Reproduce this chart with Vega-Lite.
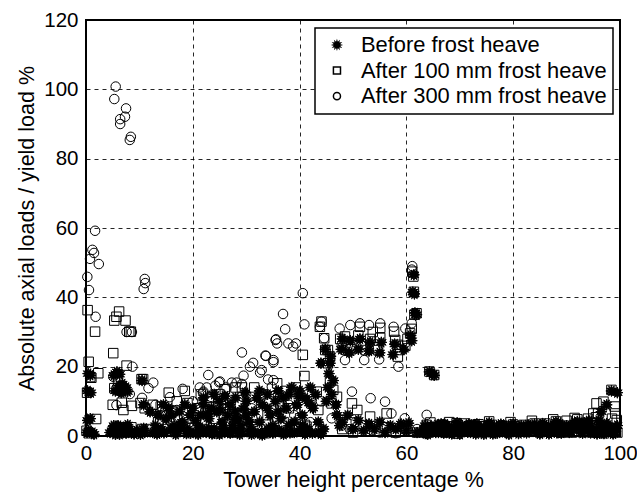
{
  "$schema": "https://vega.github.io/schema/vega-lite/v6.json",
  "width": 534,
  "height": 416,
  "autosize": {"type": "none"},
  "padding": {"left": 86, "top": 20, "right": 17, "bottom": 61},
  "background": "white",
  "datasets": {
    "loads": [
      {"series":"Before frost heave","x":0.2,"y":1},{"series":"Before frost heave","x":0.5,"y":1.5},{"series":"Before frost heave","x":0.3,"y":4.5},{"series":"Before frost heave","x":0.8,"y":5},{"series":"Before frost heave","x":0.3,"y":13},{"series":"Before frost heave","x":0.9,"y":12.5},{"series":"Before frost heave","x":0.4,"y":18},{"series":"Before frost heave","x":0.8,"y":17.5},{"series":"Before frost heave","x":1.2,"y":1},{"series":"Before frost heave","x":1.5,"y":0.5},
      {"series":"Before frost heave","x":4.5,"y":1},{"series":"Before frost heave","x":5,"y":2},{"series":"Before frost heave","x":5.5,"y":0.5},{"series":"Before frost heave","x":6,"y":3},{"series":"Before frost heave","x":6.5,"y":1.5},{"series":"Before frost heave","x":7,"y":2.5},{"series":"Before frost heave","x":7.5,"y":0.8},{"series":"Before frost heave","x":8,"y":2},{"series":"Before frost heave","x":8.5,"y":1},{"series":"Before frost heave","x":5.2,"y":3},{"series":"Before frost heave","x":6.3,"y":0.5},{"series":"Before frost heave","x":7.8,"y":3.2},{"series":"Before frost heave","x":9,"y":0.6},
      {"series":"Before frost heave","x":5.2,"y":17.5},{"series":"Before frost heave","x":5.8,"y":18.5},{"series":"Before frost heave","x":6.3,"y":17.8},{"series":"Before frost heave","x":5.5,"y":13},{"series":"Before frost heave","x":6.2,"y":14.5},{"series":"Before frost heave","x":6.8,"y":15},{"series":"Before frost heave","x":7.2,"y":13.5},{"series":"Before frost heave","x":7.5,"y":14},{"series":"Before frost heave","x":7.8,"y":12.8},{"series":"Before frost heave","x":6.6,"y":12.5},
      {"series":"Before frost heave","x":9.5,"y":1.5},{"series":"Before frost heave","x":10.2,"y":0.5},{"series":"Before frost heave","x":10.8,"y":2.2},{"series":"Before frost heave","x":11,"y":1},{"series":"Before frost heave","x":10.5,"y":16},{"series":"Before frost heave","x":10.8,"y":9},
      {"series":"Before frost heave","x":12.5,"y":1},{"series":"Before frost heave","x":13,"y":3},{"series":"Before frost heave","x":14,"y":2},{"series":"Before frost heave","x":15,"y":5},{"series":"Before frost heave","x":15.5,"y":8},{"series":"Before frost heave","x":16,"y":6},{"series":"Before frost heave","x":16.5,"y":3},{"series":"Before frost heave","x":17,"y":1.5},{"series":"Before frost heave","x":17.5,"y":7},{"series":"Before frost heave","x":18,"y":4},{"series":"Before frost heave","x":18.5,"y":9},{"series":"Before frost heave","x":19,"y":2},{"series":"Before frost heave","x":19.5,"y":6},{"series":"Before frost heave","x":20,"y":8},{"series":"Before frost heave","x":20.5,"y":1},{"series":"Before frost heave","x":14.5,"y":9},{"series":"Before frost heave","x":13.5,"y":6},{"series":"Before frost heave","x":12,"y":7},{"series":"Before frost heave","x":16.8,"y":0.5},{"series":"Before frost heave","x":18.8,"y":0.7},
      {"series":"Before frost heave","x":13.3,"y":0.6},{"series":"Before frost heave","x":14.6,"y":0.9},{"series":"Before frost heave","x":15.8,"y":1.8},{"series":"Before frost heave","x":17.8,"y":2.4},{"series":"Before frost heave","x":19.6,"y":0.8},{"series":"Before frost heave","x":21.8,"y":1.8},{"series":"Before frost heave","x":23.6,"y":0.6},{"series":"Before frost heave","x":25.8,"y":2.4},{"series":"Before frost heave","x":27.6,"y":1.8},{"series":"Before frost heave","x":28.8,"y":0.5},{"series":"Before frost heave","x":30.6,"y":1.2},{"series":"Before frost heave","x":32.2,"y":0.8},{"series":"Before frost heave","x":34.2,"y":2.2},{"series":"Before frost heave","x":36.2,"y":1.6},{"series":"Before frost heave","x":38.2,"y":0.9},{"series":"Before frost heave","x":40.6,"y":2.8},{"series":"Before frost heave","x":42.4,"y":0.8},{"series":"Before frost heave","x":44,"y":0.6},
      {"series":"Before frost heave","x":21,"y":3},{"series":"Before frost heave","x":21.5,"y":6},{"series":"Before frost heave","x":22,"y":9},{"series":"Before frost heave","x":22.5,"y":1},{"series":"Before frost heave","x":23,"y":5},{"series":"Before frost heave","x":23.5,"y":8},{"series":"Before frost heave","x":24,"y":2},{"series":"Before frost heave","x":24.5,"y":7},{"series":"Before frost heave","x":25,"y":10},{"series":"Before frost heave","x":25.5,"y":4},{"series":"Before frost heave","x":26,"y":1},{"series":"Before frost heave","x":26.5,"y":6},{"series":"Before frost heave","x":27,"y":9},{"series":"Before frost heave","x":27.5,"y":3},{"series":"Before frost heave","x":28,"y":11},{"series":"Before frost heave","x":28.5,"y":5},{"series":"Before frost heave","x":29,"y":1.5},{"series":"Before frost heave","x":29.5,"y":8},{"series":"Before frost heave","x":30,"y":10},{"series":"Before frost heave","x":30.5,"y":4},{"series":"Before frost heave","x":21,"y":0.5},{"series":"Before frost heave","x":23,"y":2},{"series":"Before frost heave","x":25,"y":0.5},{"series":"Before frost heave","x":27,"y":0.8},{"series":"Before frost heave","x":29,"y":3},{"series":"Before frost heave","x":22,"y":11},{"series":"Before frost heave","x":24,"y":12},{"series":"Before frost heave","x":26,"y":11.5},{"series":"Before frost heave","x":28,"y":7},{"series":"Before frost heave","x":30,"y":6},{"series":"Before frost heave","x":20.5,"y":4.5},{"series":"Before frost heave","x":22.8,"y":6.5},{"series":"Before frost heave","x":25.2,"y":7.5},{"series":"Before frost heave","x":27.8,"y":4.8},{"series":"Before frost heave","x":29.8,"y":12.5},
      {"series":"Before frost heave","x":31,"y":2},{"series":"Before frost heave","x":31.5,"y":7},{"series":"Before frost heave","x":32,"y":11},{"series":"Before frost heave","x":32.5,"y":4},{"series":"Before frost heave","x":33,"y":9},{"series":"Before frost heave","x":33.5,"y":1},{"series":"Before frost heave","x":34,"y":12},{"series":"Before frost heave","x":34.5,"y":6},{"series":"Before frost heave","x":35,"y":3},{"series":"Before frost heave","x":35.5,"y":10},{"series":"Before frost heave","x":36,"y":13},{"series":"Before frost heave","x":36.5,"y":5},{"series":"Before frost heave","x":37,"y":1},{"series":"Before frost heave","x":37.5,"y":8},{"series":"Before frost heave","x":38,"y":12},{"series":"Before frost heave","x":38.5,"y":14},{"series":"Before frost heave","x":39,"y":4},{"series":"Before frost heave","x":39.5,"y":9},{"series":"Before frost heave","x":40,"y":13},{"series":"Before frost heave","x":40.5,"y":6},{"series":"Before frost heave","x":41,"y":11},{"series":"Before frost heave","x":41.5,"y":2},{"series":"Before frost heave","x":42,"y":14},{"series":"Before frost heave","x":42.5,"y":8},{"series":"Before frost heave","x":43,"y":12},{"series":"Before frost heave","x":43.5,"y":4},{"series":"Before frost heave","x":31,"y":0.5},{"series":"Before frost heave","x":33,"y":0.3},{"series":"Before frost heave","x":35,"y":0.8},{"series":"Before frost heave","x":37,"y":0.5},{"series":"Before frost heave","x":39,"y":1},{"series":"Before frost heave","x":41,"y":0.6},{"series":"Before frost heave","x":36,"y":7},{"series":"Before frost heave","x":38,"y":3},{"series":"Before frost heave","x":40,"y":1.5},{"series":"Before frost heave","x":34,"y":8},{"series":"Before frost heave","x":32.5,"y":13},{"series":"Before frost heave","x":37,"y":11},{"series":"Before frost heave","x":39.8,"y":11.5},{"series":"Before frost heave","x":41.8,"y":9.5},{"series":"Before frost heave","x":43.5,"y":1},
      {"series":"Before frost heave","x":44.5,"y":2},{"series":"Before frost heave","x":45,"y":10},{"series":"Before frost heave","x":45.3,"y":14},{"series":"Before frost heave","x":45.5,"y":18},{"series":"Before frost heave","x":45.7,"y":21},{"series":"Before frost heave","x":45.8,"y":23},{"series":"Before frost heave","x":46,"y":12},{"series":"Before frost heave","x":46.3,"y":16},{"series":"Before frost heave","x":46.8,"y":9},{"series":"Before frost heave","x":47,"y":6},{"series":"Before frost heave","x":47.5,"y":3},{"series":"Before frost heave","x":44,"y":21},{"series":"Before frost heave","x":44.8,"y":25},
      {"series":"Before frost heave","x":47.8,"y":25},{"series":"Before frost heave","x":48,"y":28},{"series":"Before frost heave","x":49.3,"y":24},{"series":"Before frost heave","x":49.5,"y":27.5},{"series":"Before frost heave","x":51,"y":25},{"series":"Before frost heave","x":51.3,"y":28},{"series":"Before frost heave","x":53,"y":24.5},{"series":"Before frost heave","x":53.2,"y":27},{"series":"Before frost heave","x":55,"y":24},{"series":"Before frost heave","x":55.3,"y":27},{"series":"Before frost heave","x":57.5,"y":23.5},{"series":"Before frost heave","x":57.8,"y":26.5},{"series":"Before frost heave","x":59.5,"y":25},
      {"series":"Before frost heave","x":48,"y":4},{"series":"Before frost heave","x":49,"y":6},{"series":"Before frost heave","x":50,"y":2},{"series":"Before frost heave","x":51,"y":4.5},{"series":"Before frost heave","x":52,"y":1.5},{"series":"Before frost heave","x":53,"y":3.5},{"series":"Before frost heave","x":54,"y":2},{"series":"Before frost heave","x":55,"y":4},{"series":"Before frost heave","x":56,"y":1},{"series":"Before frost heave","x":57,"y":3},{"series":"Before frost heave","x":58,"y":2},{"series":"Before frost heave","x":59,"y":3.5},{"series":"Before frost heave","x":60,"y":1.5},{"series":"Before frost heave","x":60.4,"y":3.7},{"series":"Before frost heave","x":62,"y":1},
      {"series":"Before frost heave","x":61.2,"y":41.5},{"series":"Before frost heave","x":61.5,"y":41},{"series":"Before frost heave","x":61.6,"y":35.5},{"series":"Before frost heave","x":61.9,"y":35},{"series":"Before frost heave","x":61,"y":27.5},{"series":"Before frost heave","x":60.8,"y":29},{"series":"Before frost heave","x":61.4,"y":46.5},
      {"series":"Before frost heave","x":64.3,"y":18.5},{"series":"Before frost heave","x":64.8,"y":18},{"series":"Before frost heave","x":65.2,"y":17.5},
      {"series":"Before frost heave","x":63,"y":1},{"series":"Before frost heave","x":63.5,"y":3},{"series":"Before frost heave","x":64,"y":0.5},{"series":"Before frost heave","x":65,"y":2},{"series":"Before frost heave","x":66,"y":1},{"series":"Before frost heave","x":66.5,"y":3.5},{"series":"Before frost heave","x":67,"y":0.8},{"series":"Before frost heave","x":68,"y":2.5},{"series":"Before frost heave","x":69,"y":1.2},{"series":"Before frost heave","x":69.5,"y":3.8},{"series":"Before frost heave","x":70,"y":0.5},{"series":"Before frost heave","x":71,"y":2},{"series":"Before frost heave","x":72,"y":1},{"series":"Before frost heave","x":72.5,"y":3.2},{"series":"Before frost heave","x":73,"y":0.6},{"series":"Before frost heave","x":74,"y":2.4},{"series":"Before frost heave","x":75,"y":1},{"series":"Before frost heave","x":76,"y":3},{"series":"Before frost heave","x":77,"y":0.8},{"series":"Before frost heave","x":78,"y":2.2},{"series":"Before frost heave","x":79,"y":1.2},{"series":"Before frost heave","x":80,"y":3.5},{"series":"Before frost heave","x":81,"y":0.7},{"series":"Before frost heave","x":82,"y":2.6},{"series":"Before frost heave","x":83,"y":1.4},{"series":"Before frost heave","x":84,"y":3.4},{"series":"Before frost heave","x":85,"y":0.6},{"series":"Before frost heave","x":86,"y":2.6},{"series":"Before frost heave","x":87,"y":1.2},{"series":"Before frost heave","x":88,"y":4},{"series":"Before frost heave","x":89,"y":0.8},{"series":"Before frost heave","x":90,"y":3},{"series":"Before frost heave","x":91,"y":1.5},{"series":"Before frost heave","x":92,"y":4.2},{"series":"Before frost heave","x":93,"y":0.8},{"series":"Before frost heave","x":94,"y":3.5},{"series":"Before frost heave","x":95,"y":1.2},{"series":"Before frost heave","x":96,"y":4.5},{"series":"Before frost heave","x":97,"y":0.7},{"series":"Before frost heave","x":98,"y":2.5},{"series":"Before frost heave","x":99,"y":1},{"series":"Before frost heave","x":98.4,"y":13},{"series":"Before frost heave","x":99.5,"y":12.5},{"series":"Before frost heave","x":97.5,"y":9},{"series":"Before frost heave","x":96.5,"y":7},
      {"series":"Before frost heave","x":65.5,"y":1},{"series":"Before frost heave","x":67.5,"y":2},{"series":"Before frost heave","x":70.5,"y":3},{"series":"Before frost heave","x":73.5,"y":2},{"series":"Before frost heave","x":75.5,"y":3.8},{"series":"Before frost heave","x":78.5,"y":1},{"series":"Before frost heave","x":81.5,"y":3},{"series":"Before frost heave","x":84.5,"y":1.8},{"series":"Before frost heave","x":87.5,"y":3},{"series":"Before frost heave","x":90.5,"y":1},{"series":"Before frost heave","x":93.5,"y":2.5},{"series":"Before frost heave","x":96.5,"y":2},{"series":"Before frost heave","x":99.5,"y":3},
      {"series":"Before frost heave","x":64.5,"y":2.8},{"series":"Before frost heave","x":68.5,"y":0.6},{"series":"Before frost heave","x":71.5,"y":1.1},{"series":"Before frost heave","x":74.5,"y":0.5},{"series":"Before frost heave","x":76.5,"y":1.8},{"series":"Before frost heave","x":79.5,"y":2.8},{"series":"Before frost heave","x":82.5,"y":0.9},{"series":"Before frost heave","x":85.5,"y":3.6},{"series":"Before frost heave","x":88.5,"y":1.6},{"series":"Before frost heave","x":91.5,"y":3.8},{"series":"Before frost heave","x":94.5,"y":0.9},{"series":"Before frost heave","x":97.5,"y":3.6},
      {"series":"Before frost heave","x":63.3,"y":2},{"series":"Before frost heave","x":64.7,"y":1.4},{"series":"Before frost heave","x":66.2,"y":2.2},{"series":"Before frost heave","x":67.7,"y":1.2},{"series":"Before frost heave","x":69.2,"y":2.6},{"series":"Before frost heave","x":70.8,"y":1.3},{"series":"Before frost heave","x":72.3,"y":2.3},{"series":"Before frost heave","x":73.8,"y":1.2},{"series":"Before frost heave","x":75.3,"y":2.6},{"series":"Before frost heave","x":76.8,"y":1.4},{"series":"Before frost heave","x":78.3,"y":3},{"series":"Before frost heave","x":79.8,"y":1.3},{"series":"Before frost heave","x":81.3,"y":2.2},{"series":"Before frost heave","x":82.8,"y":3.2},{"series":"Before frost heave","x":84.3,"y":1.2},{"series":"Before frost heave","x":85.8,"y":3.2},{"series":"Before frost heave","x":87.3,"y":2.2},{"series":"Before frost heave","x":88.8,"y":3.4},{"series":"Before frost heave","x":90.3,"y":2.2},{"series":"Before frost heave","x":91.8,"y":2.5},{"series":"Before frost heave","x":93.3,"y":3.8},{"series":"Before frost heave","x":94.8,"y":2.4},{"series":"Before frost heave","x":96.3,"y":3.4},{"series":"Before frost heave","x":97.8,"y":1.6},{"series":"Before frost heave","x":99.3,"y":2.2},
      {"series":"Before frost heave","x":63.7,"y":0.7},{"series":"Before frost heave","x":65.8,"y":3.2},{"series":"Before frost heave","x":67.2,"y":3.4},{"series":"Before frost heave","x":68.8,"y":1.8},{"series":"Before frost heave","x":70.2,"y":2.4},{"series":"Before frost heave","x":71.7,"y":3.4},{"series":"Before frost heave","x":73.2,"y":3.5},{"series":"Before frost heave","x":74.7,"y":1.9},{"series":"Before frost heave","x":76.2,"y":0.6},{"series":"Before frost heave","x":77.7,"y":3.4},{"series":"Before frost heave","x":79.2,"y":0.5},{"series":"Before frost heave","x":80.7,"y":1.9},{"series":"Before frost heave","x":82.2,"y":1.6},{"series":"Before frost heave","x":83.7,"y":2.6},{"series":"Before frost heave","x":85.2,"y":2.2},{"series":"Before frost heave","x":86.7,"y":0.6},{"series":"Before frost heave","x":88.2,"y":0.9},{"series":"Before frost heave","x":89.7,"y":2},{"series":"Before frost heave","x":91.2,"y":3.2},{"series":"Before frost heave","x":92.7,"y":1.6},{"series":"Before frost heave","x":94.2,"y":4.4},{"series":"Before frost heave","x":95.7,"y":0.6},{"series":"Before frost heave","x":97.2,"y":2.6},{"series":"Before frost heave","x":98.7,"y":0.6},

      {"series":"After 100 mm frost heave","x":0.3,"y":36.3},{"series":"After 100 mm frost heave","x":0.5,"y":21.4},{"series":"After 100 mm frost heave","x":0.8,"y":17},{"series":"After 100 mm frost heave","x":0.2,"y":12.5},{"series":"After 100 mm frost heave","x":0.1,"y":1.5},{"series":"After 100 mm frost heave","x":1,"y":16.8},{"series":"After 100 mm frost heave","x":1.7,"y":30.1},{"series":"After 100 mm frost heave","x":2.3,"y":18.1},{"series":"After 100 mm frost heave","x":1.9,"y":4.9},{"series":"After 100 mm frost heave","x":0.5,"y":0.8},
      {"series":"After 100 mm frost heave","x":6.2,"y":35.9},{"series":"After 100 mm frost heave","x":5.7,"y":34.4},{"series":"After 100 mm frost heave","x":7.4,"y":33.3},{"series":"After 100 mm frost heave","x":5.3,"y":33.3},{"series":"After 100 mm frost heave","x":8.1,"y":30.1},{"series":"After 100 mm frost heave","x":8.4,"y":30.1},{"series":"After 100 mm frost heave","x":5.1,"y":23.9},{"series":"After 100 mm frost heave","x":7.6,"y":20.3},{"series":"After 100 mm frost heave","x":5.3,"y":13.8},{"series":"After 100 mm frost heave","x":6.7,"y":9.6},{"series":"After 100 mm frost heave","x":7,"y":7.5},{"series":"After 100 mm frost heave","x":8.6,"y":8.7},{"series":"After 100 mm frost heave","x":5.5,"y":1.5},{"series":"After 100 mm frost heave","x":6.5,"y":2.5},{"series":"After 100 mm frost heave","x":7.5,"y":1},{"series":"After 100 mm frost heave","x":8.5,"y":2.5},{"series":"After 100 mm frost heave","x":6,"y":16},{"series":"After 100 mm frost heave","x":5,"y":9},
      {"series":"After 100 mm frost heave","x":10.4,"y":16.4},{"series":"After 100 mm frost heave","x":10.7,"y":16.4},{"series":"After 100 mm frost heave","x":10.2,"y":9.5},{"series":"After 100 mm frost heave","x":11,"y":8},{"series":"After 100 mm frost heave","x":10.5,"y":2},
      {"series":"After 100 mm frost heave","x":12.5,"y":9},{"series":"After 100 mm frost heave","x":13.5,"y":4},{"series":"After 100 mm frost heave","x":14,"y":8.5},{"series":"After 100 mm frost heave","x":15,"y":2},{"series":"After 100 mm frost heave","x":16,"y":7},{"series":"After 100 mm frost heave","x":17,"y":10},{"series":"After 100 mm frost heave","x":18,"y":3},{"series":"After 100 mm frost heave","x":19,"y":9.5},{"series":"After 100 mm frost heave","x":20,"y":5},{"series":"After 100 mm frost heave","x":15.5,"y":12.5},{"series":"After 100 mm frost heave","x":18.5,"y":13},{"series":"After 100 mm frost heave","x":12,"y":2},
      {"series":"After 100 mm frost heave","x":21,"y":8},{"series":"After 100 mm frost heave","x":22,"y":2},{"series":"After 100 mm frost heave","x":23,"y":10},{"series":"After 100 mm frost heave","x":24,"y":5},{"series":"After 100 mm frost heave","x":25,"y":12},{"series":"After 100 mm frost heave","x":26,"y":3},{"series":"After 100 mm frost heave","x":27,"y":9},{"series":"After 100 mm frost heave","x":28,"y":14},{"series":"After 100 mm frost heave","x":29,"y":6},{"series":"After 100 mm frost heave","x":29.2,"y":14},{"series":"After 100 mm frost heave","x":30,"y":2},{"series":"After 100 mm frost heave","x":21.5,"y":12},{"series":"After 100 mm frost heave","x":24.5,"y":0.8},{"series":"After 100 mm frost heave","x":27.5,"y":1},{"series":"After 100 mm frost heave","x":26,"y":13.5},{"series":"After 100 mm frost heave","x":23.5,"y":11},
      {"series":"After 100 mm frost heave","x":31,"y":9},{"series":"After 100 mm frost heave","x":32,"y":3},{"series":"After 100 mm frost heave","x":33,"y":12},{"series":"After 100 mm frost heave","x":34,"y":6},{"series":"After 100 mm frost heave","x":35,"y":1.5},{"series":"After 100 mm frost heave","x":35.8,"y":15.2},{"series":"After 100 mm frost heave","x":36,"y":10},{"series":"After 100 mm frost heave","x":37,"y":4},{"series":"After 100 mm frost heave","x":38,"y":8},{"series":"After 100 mm frost heave","x":39.3,"y":14},{"series":"After 100 mm frost heave","x":40.6,"y":23.4},{"series":"After 100 mm frost heave","x":40.9,"y":17.3},{"series":"After 100 mm frost heave","x":40.1,"y":5.1},{"series":"After 100 mm frost heave","x":41,"y":3.2},{"series":"After 100 mm frost heave","x":42,"y":10},{"series":"After 100 mm frost heave","x":43.2,"y":12.8},{"series":"After 100 mm frost heave","x":43.5,"y":7.5},{"series":"After 100 mm frost heave","x":41.3,"y":2.7},{"series":"After 100 mm frost heave","x":31.5,"y":14},{"series":"After 100 mm frost heave","x":33.5,"y":0.8},{"series":"After 100 mm frost heave","x":37.5,"y":13},
      {"series":"After 100 mm frost heave","x":44.1,"y":33},{"series":"After 100 mm frost heave","x":43.8,"y":31.5},{"series":"After 100 mm frost heave","x":44.6,"y":28.2},{"series":"After 100 mm frost heave","x":44.8,"y":24.8},{"series":"After 100 mm frost heave","x":45.3,"y":24.8},{"series":"After 100 mm frost heave","x":45.7,"y":22.9},{"series":"After 100 mm frost heave","x":45.3,"y":21},{"series":"After 100 mm frost heave","x":45.7,"y":15.7},{"series":"After 100 mm frost heave","x":46.3,"y":13.3},{"series":"After 100 mm frost heave","x":47,"y":11.3},{"series":"After 100 mm frost heave","x":46,"y":9.4},{"series":"After 100 mm frost heave","x":49.8,"y":9.4},{"series":"After 100 mm frost heave","x":50.8,"y":7.5},{"series":"After 100 mm frost heave","x":53.2,"y":5.6},{"series":"After 100 mm frost heave","x":56.3,"y":6.5},
      {"series":"After 100 mm frost heave","x":47.6,"y":28},{"series":"After 100 mm frost heave","x":48.5,"y":28.7},{"series":"After 100 mm frost heave","x":49,"y":27},{"series":"After 100 mm frost heave","x":49.5,"y":25},{"series":"After 100 mm frost heave","x":51,"y":29},{"series":"After 100 mm frost heave","x":51.5,"y":26.5},{"series":"After 100 mm frost heave","x":52.4,"y":24.8},{"series":"After 100 mm frost heave","x":51.3,"y":31.5},{"series":"After 100 mm frost heave","x":53.2,"y":28},{"series":"After 100 mm frost heave","x":53.7,"y":30},{"series":"After 100 mm frost heave","x":55.1,"y":31.2},{"series":"After 100 mm frost heave","x":55.1,"y":28.3},{"series":"After 100 mm frost heave","x":54.7,"y":24.8},{"series":"After 100 mm frost heave","x":57.7,"y":30.1},{"series":"After 100 mm frost heave","x":57.9,"y":27.7},{"series":"After 100 mm frost heave","x":58.4,"y":26.3},{"series":"After 100 mm frost heave","x":58.8,"y":24.8},{"series":"After 100 mm frost heave","x":58.4,"y":22.9},{"series":"After 100 mm frost heave","x":59.8,"y":26},{"series":"After 100 mm frost heave","x":60.2,"y":28},{"series":"After 100 mm frost heave","x":61,"y":30.9},{"series":"After 100 mm frost heave","x":60.7,"y":29.6},
      {"series":"After 100 mm frost heave","x":61.1,"y":47.4},{"series":"After 100 mm frost heave","x":61.3,"y":46},{"series":"After 100 mm frost heave","x":61.4,"y":41.6},{"series":"After 100 mm frost heave","x":61.9,"y":35.4},{"series":"After 100 mm frost heave","x":61.5,"y":35},{"series":"After 100 mm frost heave","x":64.3,"y":18.6},{"series":"After 100 mm frost heave","x":65.2,"y":17.6},
      {"series":"After 100 mm frost heave","x":48,"y":2},{"series":"After 100 mm frost heave","x":50,"y":1},{"series":"After 100 mm frost heave","x":52,"y":3},{"series":"After 100 mm frost heave","x":54,"y":1.5},{"series":"After 100 mm frost heave","x":56,"y":2.5},{"series":"After 100 mm frost heave","x":58,"y":1},{"series":"After 100 mm frost heave","x":60,"y":2},{"series":"After 100 mm frost heave","x":62,"y":1},
      {"series":"After 100 mm frost heave","x":63.8,"y":3.2},{"series":"After 100 mm frost heave","x":64,"y":1},{"series":"After 100 mm frost heave","x":65,"y":2.5},{"series":"After 100 mm frost heave","x":66.9,"y":3.2},{"series":"After 100 mm frost heave","x":67.5,"y":1},{"series":"After 100 mm frost heave","x":68.5,"y":2.8},{"series":"After 100 mm frost heave","x":69.4,"y":3.7},{"series":"After 100 mm frost heave","x":70.5,"y":1.5},{"series":"After 100 mm frost heave","x":71.3,"y":1.7},{"series":"After 100 mm frost heave","x":72,"y":3},{"series":"After 100 mm frost heave","x":73,"y":1.2},{"series":"After 100 mm frost heave","x":74,"y":2.8},{"series":"After 100 mm frost heave","x":75,"y":1.6},{"series":"After 100 mm frost heave","x":76,"y":3.2},{"series":"After 100 mm frost heave","x":77,"y":1.2},{"series":"After 100 mm frost heave","x":78,"y":2.9},{"series":"After 100 mm frost heave","x":79,"y":1.3},{"series":"After 100 mm frost heave","x":80,"y":3.3},{"series":"After 100 mm frost heave","x":81,"y":1.4},{"series":"After 100 mm frost heave","x":82,"y":3.2},{"series":"After 100 mm frost heave","x":83,"y":1.2},{"series":"After 100 mm frost heave","x":84,"y":3.6},{"series":"After 100 mm frost heave","x":85,"y":1.1},{"series":"After 100 mm frost heave","x":86,"y":3.6},{"series":"After 100 mm frost heave","x":87,"y":1.4},{"series":"After 100 mm frost heave","x":88,"y":4.2},{"series":"After 100 mm frost heave","x":89,"y":1},{"series":"After 100 mm frost heave","x":90,"y":4.4},{"series":"After 100 mm frost heave","x":91,"y":1},{"series":"After 100 mm frost heave","x":92,"y":4.8},{"series":"After 100 mm frost heave","x":93,"y":1.1},{"series":"After 100 mm frost heave","x":94,"y":5},{"series":"After 100 mm frost heave","x":95,"y":1},{"series":"After 100 mm frost heave","x":95,"y":6.5},{"series":"After 100 mm frost heave","x":95.9,"y":6.5},{"series":"After 100 mm frost heave","x":95.6,"y":9.4},{"series":"After 100 mm frost heave","x":96.9,"y":9.9},{"series":"After 100 mm frost heave","x":98.4,"y":13.3},{"series":"After 100 mm frost heave","x":99.1,"y":6.5},{"series":"After 100 mm frost heave","x":99.4,"y":4.6},{"series":"After 100 mm frost heave","x":96,"y":1},{"series":"After 100 mm frost heave","x":97,"y":0.8},{"series":"After 100 mm frost heave","x":98,"y":1.2},{"series":"After 100 mm frost heave","x":99.5,"y":1},{"series":"After 100 mm frost heave","x":99,"y":8.5},
      {"series":"After 100 mm frost heave","x":66.5,"y":2},{"series":"After 100 mm frost heave","x":69.5,"y":0.7},{"series":"After 100 mm frost heave","x":73.5,"y":3.4},{"series":"After 100 mm frost heave","x":77.5,"y":2.4},{"series":"After 100 mm frost heave","x":81.5,"y":2},{"series":"After 100 mm frost heave","x":85.5,"y":2.4},{"series":"After 100 mm frost heave","x":89.5,"y":3},{"series":"After 100 mm frost heave","x":93.5,"y":3.8},{"series":"After 100 mm frost heave","x":97.5,"y":2.5},
      {"series":"After 100 mm frost heave","x":64.5,"y":3.9},{"series":"After 100 mm frost heave","x":68,"y":4},{"series":"After 100 mm frost heave","x":71,"y":3.6},{"series":"After 100 mm frost heave","x":75.5,"y":4.2},{"series":"After 100 mm frost heave","x":79.5,"y":4},{"series":"After 100 mm frost heave","x":83.5,"y":4.4},{"series":"After 100 mm frost heave","x":87.5,"y":4.8},{"series":"After 100 mm frost heave","x":91.5,"y":5.2},{"series":"After 100 mm frost heave","x":95.5,"y":5.4},{"series":"After 100 mm frost heave","x":98.5,"y":5},

      {"series":"After 300 mm frost heave","x":5.56,"y":100.8},{"series":"After 300 mm frost heave","x":5.3,"y":97.2},{"series":"After 300 mm frost heave","x":7.5,"y":94.5},{"series":"After 300 mm frost heave","x":7.3,"y":92.1},{"series":"After 300 mm frost heave","x":6.4,"y":91.4},{"series":"After 300 mm frost heave","x":6.4,"y":90},{"series":"After 300 mm frost heave","x":8.4,"y":86.3},{"series":"After 300 mm frost heave","x":8.2,"y":85.4},
      {"series":"After 300 mm frost heave","x":1.7,"y":59.2},{"series":"After 300 mm frost heave","x":1.2,"y":53.7},{"series":"After 300 mm frost heave","x":1.5,"y":52.8},{"series":"After 300 mm frost heave","x":0.75,"y":51.1},{"series":"After 300 mm frost heave","x":2.4,"y":49.6},{"series":"After 300 mm frost heave","x":0.25,"y":45.9},{"series":"After 300 mm frost heave","x":0.56,"y":42.1},{"series":"After 300 mm frost heave","x":11,"y":45.3},{"series":"After 300 mm frost heave","x":11.1,"y":44.1},{"series":"After 300 mm frost heave","x":10.8,"y":42.4},{"series":"After 300 mm frost heave","x":1.8,"y":34.4},{"series":"After 300 mm frost heave","x":7.6,"y":30},{"series":"After 300 mm frost heave","x":8.6,"y":30},
      {"series":"After 300 mm frost heave","x":5.1,"y":17.1},{"series":"After 300 mm frost heave","x":8.7,"y":20},{"series":"After 300 mm frost heave","x":5.7,"y":13.8},{"series":"After 300 mm frost heave","x":6.2,"y":13.1},{"series":"After 300 mm frost heave","x":6.7,"y":12.8},{"series":"After 300 mm frost heave","x":8.2,"y":12.1},{"series":"After 300 mm frost heave","x":12.6,"y":15.4},{"series":"After 300 mm frost heave","x":11.7,"y":13.8},{"series":"After 300 mm frost heave","x":5.7,"y":8.9},{"series":"After 300 mm frost heave","x":15.7,"y":11.2},{"series":"After 300 mm frost heave","x":18.1,"y":13.6},{"series":"After 300 mm frost heave","x":22.9,"y":17.6},{"series":"After 300 mm frost heave","x":21.3,"y":14},{"series":"After 300 mm frost heave","x":21.9,"y":12.5},{"series":"After 300 mm frost heave","x":24.2,"y":14.5},{"series":"After 300 mm frost heave","x":24.9,"y":15.5},{"series":"After 300 mm frost heave","x":26.3,"y":14},{"series":"After 300 mm frost heave","x":27.3,"y":15.4},{"series":"After 300 mm frost heave","x":28.2,"y":15.4},{"series":"After 300 mm frost heave","x":29.2,"y":15},{"series":"After 300 mm frost heave","x":29.5,"y":17.4},{"series":"After 300 mm frost heave","x":30.7,"y":20},{"series":"After 300 mm frost heave","x":31.3,"y":21.1},{"series":"After 300 mm frost heave","x":32.6,"y":18.3},{"series":"After 300 mm frost heave","x":33.6,"y":23.2},{"series":"After 300 mm frost heave","x":35.1,"y":21.3},{"series":"After 300 mm frost heave","x":35.5,"y":27.7},{"series":"After 300 mm frost heave","x":35.8,"y":26.7},{"series":"After 300 mm frost heave","x":29.2,"y":24.1},{"series":"After 300 mm frost heave","x":36.9,"y":35.2},{"series":"After 300 mm frost heave","x":37.3,"y":30.8},{"series":"After 300 mm frost heave","x":40.9,"y":32.2},{"series":"After 300 mm frost heave","x":35.6,"y":27.9},{"series":"After 300 mm frost heave","x":37.9,"y":26.7},{"series":"After 300 mm frost heave","x":39.3,"y":26.7},{"series":"After 300 mm frost heave","x":38.8,"y":25.8},{"series":"After 300 mm frost heave","x":33.7,"y":23.1},{"series":"After 300 mm frost heave","x":32.9,"y":19},{"series":"After 300 mm frost heave","x":34.1,"y":16.3},{"series":"After 300 mm frost heave","x":25.1,"y":15.7},{"series":"After 300 mm frost heave","x":22.6,"y":14},{"series":"After 300 mm frost heave","x":22,"y":12.8},{"series":"After 300 mm frost heave","x":23.4,"y":11.3},{"series":"After 300 mm frost heave","x":25.7,"y":10.4},{"series":"After 300 mm frost heave","x":40.6,"y":41.2},
      {"series":"After 300 mm frost heave","x":10.5,"y":11},{"series":"After 300 mm frost heave","x":13,"y":9},{"series":"After 300 mm frost heave","x":14,"y":6},{"series":"After 300 mm frost heave","x":16,"y":4},{"series":"After 300 mm frost heave","x":17,"y":7.5},{"series":"After 300 mm frost heave","x":19,"y":5},{"series":"After 300 mm frost heave","x":20,"y":10},{"series":"After 300 mm frost heave","x":26,"y":8},{"series":"After 300 mm frost heave","x":27,"y":6},{"series":"After 300 mm frost heave","x":30,"y":12},{"series":"After 300 mm frost heave","x":31,"y":8},{"series":"After 300 mm frost heave","x":32,"y":5},{"series":"After 300 mm frost heave","x":34,"y":10},{"series":"After 300 mm frost heave","x":36,"y":12},{"series":"After 300 mm frost heave","x":38,"y":9},{"series":"After 300 mm frost heave","x":39,"y":6},{"series":"After 300 mm frost heave","x":41,"y":8},{"series":"After 300 mm frost heave","x":42,"y":4},{"series":"After 300 mm frost heave","x":44,"y":10},
      {"series":"After 300 mm frost heave","x":44.1,"y":33},{"series":"After 300 mm frost heave","x":43.8,"y":31.5},{"series":"After 300 mm frost heave","x":44.6,"y":28.2},{"series":"After 300 mm frost heave","x":47.9,"y":26.3},{"series":"After 300 mm frost heave","x":48.3,"y":24.8},{"series":"After 300 mm frost heave","x":48.5,"y":21.9},{"series":"After 300 mm frost heave","x":52.1,"y":21.9},{"series":"After 300 mm frost heave","x":54.9,"y":22.1},{"series":"After 300 mm frost heave","x":58.5,"y":20},{"series":"After 300 mm frost heave","x":35.1,"y":21.9},{"series":"After 300 mm frost heave","x":35.1,"y":16.1},{"series":"After 300 mm frost heave","x":34.8,"y":14.2},
      {"series":"After 300 mm frost heave","x":47.5,"y":31},{"series":"After 300 mm frost heave","x":49.5,"y":32},{"series":"After 300 mm frost heave","x":51.3,"y":32.5},{"series":"After 300 mm frost heave","x":53,"y":32},{"series":"After 300 mm frost heave","x":55.1,"y":32.5},{"series":"After 300 mm frost heave","x":57.6,"y":31.5},{"series":"After 300 mm frost heave","x":59.8,"y":31},{"series":"After 300 mm frost heave","x":61,"y":32.5},{"series":"After 300 mm frost heave","x":61.1,"y":49},{"series":"After 300 mm frost heave","x":61,"y":48},
      {"series":"After 300 mm frost heave","x":49.8,"y":12.8},{"series":"After 300 mm frost heave","x":53.3,"y":10.9},{"series":"After 300 mm frost heave","x":56,"y":9.9},{"series":"After 300 mm frost heave","x":46,"y":5.1},{"series":"After 300 mm frost heave","x":47.9,"y":3},{"series":"After 300 mm frost heave","x":49.4,"y":2},{"series":"After 300 mm frost heave","x":53.5,"y":1.7},{"series":"After 300 mm frost heave","x":57.2,"y":6.5},{"series":"After 300 mm frost heave","x":59.7,"y":5.1},{"series":"After 300 mm frost heave","x":63.8,"y":6.1},{"series":"After 300 mm frost heave","x":50.5,"y":4},{"series":"After 300 mm frost heave","x":55,"y":1},{"series":"After 300 mm frost heave","x":58,"y":0.8},{"series":"After 300 mm frost heave","x":60,"y":1.5},{"series":"After 300 mm frost heave","x":62,"y":2},{"series":"After 300 mm frost heave","x":64.5,"y":2.5},{"series":"After 300 mm frost heave","x":66,"y":3},{"series":"After 300 mm frost heave","x":67,"y":1.5},{"series":"After 300 mm frost heave","x":68,"y":2.5},{"series":"After 300 mm frost heave","x":70,"y":2},{"series":"After 300 mm frost heave","x":72,"y":1.5},{"series":"After 300 mm frost heave","x":75,"y":1.5},{"series":"After 300 mm frost heave","x":80,"y":2},{"series":"After 300 mm frost heave","x":85,"y":2},{"series":"After 300 mm frost heave","x":90,"y":2.5},{"series":"After 300 mm frost heave","x":95,"y":3},{"series":"After 300 mm frost heave","x":99,"y":2}
    ]
  },
  "data": {"name": "loads"},
  "encoding": {
    "x": {
      "field": "x",
      "type": "quantitative",
      "scale": {"domain": [0, 100], "nice": false, "zero": false},
      "axis": {
        "values": [0, 20, 40, 60, 80, 100],
        "title": "Tower height percentage %",
        "labelFlush": false,
        "labelOverlap": false,
        "labelPadding": 7,
        "titlePadding": 6
      }
    },
    "y": {
      "field": "y",
      "type": "quantitative",
      "scale": {"domain": [0, 120], "nice": false},
      "axis": {
        "values": [0, 20, 40, 60, 80, 100, 120],
        "title": "Absolute axial loads / yield load %",
        "labelPadding": 8,
        "labelOverlap": false,
        "labelFlush": false,
        "titlePadding": 5
      }
    },
    "shape": {
      "field": "series",
      "type": "nominal",
      "scale": {
        "domain": ["Before frost heave", "After 100 mm frost heave", "After 300 mm frost heave"],
        "range": [
          "M1,0L0.531,0.142L0.866,0.5L0.389,0.389L0.5,0.866L0.142,0.531L0,1L-0.142,0.531L-0.5,0.866L-0.389,0.389L-0.866,0.5L-0.531,0.142L-1,0L-0.531,-0.142L-0.866,-0.5L-0.389,-0.389L-0.5,-0.866L-0.142,-0.531L0,-1L0.142,-0.531L0.5,-0.866L0.389,-0.389L0.866,-0.5L0.531,-0.142Z",
          "square",
          "circle"
        ]
      },
      "legend": {
        "title": null,
        "orient": "none",
        "legendX": 229,
        "legendY": 8,
        "fillColor": "white",
        "strokeColor": "black",
        "padding": 6,
        "rowPadding": 2.6,
        "labelFont": "Liberation Sans",
        "labelFontSize": 21.9,
        "labelColor": "black",
        "labelLimit": 400,
        "symbolSize": 50,
        "symbolOffset": 5,
        "labelOffset": 13,
        "encode": {
          "symbols": {
            "update": {
              "stroke": {"value": "black"},
              "strokeWidth": {"value": 1}
            }
          }
        }
      }
    },
    "fill": {
      "field": "series",
      "type": "nominal",
      "scale": {
        "domain": ["Before frost heave", "After 100 mm frost heave", "After 300 mm frost heave"],
        "range": ["black", "transparent", "transparent"]
      },
      "legend": {
        "title": null,
        "orient": "none",
        "legendX": 229,
        "legendY": 8,
        "fillColor": "white",
        "strokeColor": "black",
        "padding": 6,
        "rowPadding": 2.6,
        "labelFont": "Liberation Sans",
        "labelFontSize": 21.9,
        "labelColor": "black",
        "labelLimit": 400,
        "symbolSize": 50,
        "symbolOffset": 5,
        "labelOffset": 13,
        "encode": {
          "symbols": {
            "update": {
              "stroke": {"value": "black"},
              "strokeWidth": {"value": 1}
            }
          }
        }
      }
    }
  },
  "layer": [
    {
      "transform": [{"filter": "datum.series === 'Before frost heave'"}],
      "mark": {"type": "point", "filled": true, "stroke": "black", "strokeWidth": 1, "opacity": 1, "size": 125}
    },
    {
      "transform": [{"filter": "datum.series !== 'Before frost heave'"}],
      "mark": {"type": "point", "filled": true, "stroke": "black", "strokeWidth": 1, "opacity": 1, "size": 90}
    }
  ],
  "config": {
    "font": "Liberation Sans",
    "view": {"stroke": "black", "strokeWidth": 2},
    "axis": {
      "labelFont": "Liberation Sans",
      "labelFontSize": 20.5,
      "labelColor": "black",
      "titleFont": "Liberation Sans",
      "titleFontSize": 21.5,
      "titleFontWeight": "normal",
      "titleColor": "black",
      "grid": true,
      "gridColor": "black",
      "gridDash": [4, 4],
      "gridWidth": 1,
      "gridOpacity": 0.85,
      "domain": false,
      "ticks": false
    },
    "legend": {"strokeWidth": 1.5}
  }
}
